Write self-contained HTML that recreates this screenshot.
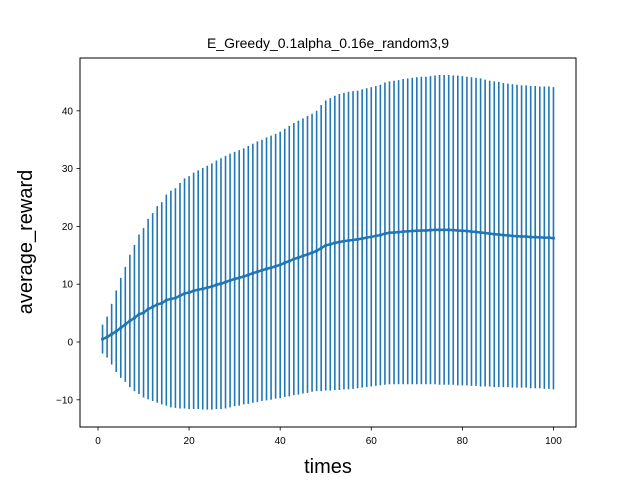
<!DOCTYPE html>
<html><head><meta charset="utf-8"><style>
body{margin:0;background:#fff}
svg text{font-family:"Liberation Sans","DejaVu Sans",sans-serif}
</style></head><body>
<svg id="chart" width="640" height="480" viewBox="0 0 640 480">
<rect width="640" height="480" fill="#fff"/>
<text x="328" y="48" font-size="14" text-anchor="middle">E_Greedy_0.1alpha_0.16e_random3,9</text>
<g id="marks"></g>
<rect x="80" y="58" width="496" height="369" fill="none" stroke="#000" stroke-width="1"/>
<g id="xticks"></g><g id="yticks"></g>
<text x="328" y="473" font-size="20" text-anchor="middle">times</text>
<text transform="translate(32,242) rotate(-90)" font-size="20" text-anchor="middle">average_reward</text>
</svg>
<script>
const meanVals=[0.5,0.85,1.35,1.85,2.45,3.05,3.65,4.15,4.8,5.05,5.7,6.05,6.5,6.7,7.25,7.45,7.6,8,8.4,8.55,8.85,9.05,9.2,9.4,9.6,9.9,10.1,10.35,10.65,10.9,11.1,11.35,11.6,11.9,12.15,12.4,12.65,12.85,13.1,13.35,13.7,14,14.35,14.6,14.9,15.15,15.45,15.75,16.25,16.7,16.9,17.15,17.3,17.45,17.55,17.65,17.75,17.9,18.05,18.2,18.35,18.5,18.75,18.9,18.95,19,19.1,19.15,19.2,19.25,19.3,19.3,19.35,19.4,19.4,19.4,19.4,19.35,19.3,19.25,19.2,19.1,19.05,18.95,18.85,18.75,18.65,18.6,18.5,18.45,18.35,18.3,18.25,18.25,18.15,18.15,18.1,18.05,18.05,17.95];
const errVals=[2.5,3.55,5.25,7.05,8.65,9.95,11.45,12.65,13.8,14.65,15.6,16.25,17,17.5,18.25,18.75,19,19.5,19.9,20.15,20.45,20.65,20.9,21.1,21.3,21.5,21.7,21.85,21.95,22,22.1,22.15,22.3,22.4,22.55,22.6,22.75,22.85,22.9,23.05,23.2,23.4,23.55,23.7,23.8,23.95,24.05,24.25,24.75,25.1,25.3,25.45,25.6,25.65,25.75,25.75,25.75,25.8,25.85,25.9,25.95,26,26.15,26.2,26.25,26.3,26.4,26.45,26.5,26.55,26.6,26.6,26.65,26.7,26.8,26.8,26.8,26.75,26.8,26.75,26.7,26.7,26.65,26.65,26.55,26.45,26.45,26.4,26.3,26.25,26.25,26.2,26.15,26.15,26.15,26.15,26.1,26.15,26.15,26.15];
const xTickVals=[0,20,40,60,80,100];
const yTickVals=[-10,0,10,20,30,40];
const NS="http://www.w3.org/2000/svg";
const X=v=>80+(v+3.95)/108.9*496;
const Y=v=>342-v*5.78;
function mk(t,a,p){const e=document.createElementNS(NS,t);for(const k in a)e.setAttribute(k,a[k]);p.appendChild(e);return e;}
const marks=document.getElementById('marks');
const C="#1f77b4";
let pts=[];
meanVals.forEach((m,i)=>{
  const x=X(i+1);
  const l=mk('line',{x1:x,x2:x,y1:Y(m-errVals[i]),y2:Y(m+errVals[i]),stroke:C,'stroke-width':1.6},marks);
  
  
  pts.push(x.toFixed(2)+','+Y(m).toFixed(2));
});
const pl=mk('polyline',{points:pts.join(' '),fill:'none',stroke:C,'stroke-width':2.5},marks);


meanVals.forEach((m,i)=>{
  const c=mk('circle',{cx:X(i+1),cy:Y(m),r:1.6,fill:C},marks);
  
  
});
const xg=document.getElementById('xticks');
xTickVals.forEach(v=>{
  const x=X(v);
  const t=mk('line',{x1:x,x2:x,y1:427,y2:430.5,stroke:'#000','stroke-width':0.8},xg);
  
  
  const tx=mk('text',{x:x,y:444,'font-size':10,'text-anchor':'middle'},xg);
  tx.textContent=v;
  
  
});
const yg=document.getElementById('yticks');
yTickVals.forEach(v=>{
  const y=Y(v);
  const t=mk('line',{x1:76.5,x2:80,y1:y,y2:y,stroke:'#000','stroke-width':0.8},yg);
  
  
  const tx=mk('text',{x:73,y:y+3.5,'font-size':10,'text-anchor':'end'},yg);
  tx.textContent=v<0?'\u2212'+(-v):v;
  
  
});
</script>
</body></html>
